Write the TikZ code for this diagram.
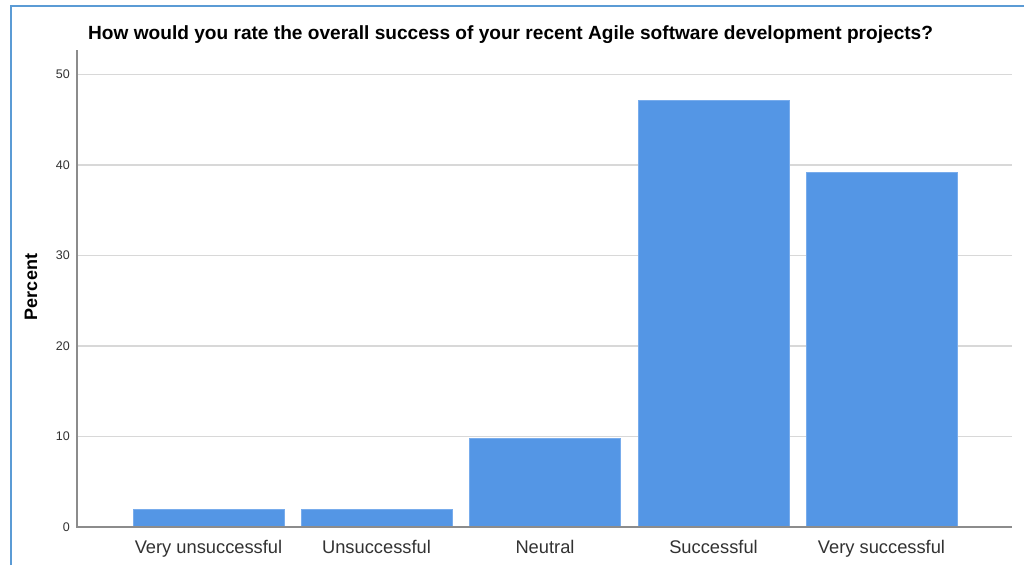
\documentclass[tikz,border=0pt]{standalone}
\usepackage{fontspec}
\setmainfont{Liberation Sans}
\begin{document}
\begin{tikzpicture}[x=1pt,y=-1pt,
  framecol/.style={draw=frameblue,line width=2pt},
  gridln/.style={draw=gridgray,line width=1.5pt},
  axisln/.style={draw=axisgray,line width=1.6pt},
  barbox/.style={fill=barblue,draw=baredge,line width=0.8pt},
  ticklbl/.style={anchor=east,inner sep=0pt,text=labelgray,font=\fontsize{12.5}{14}\selectfont},
  catlbl/.style={anchor=base,inner sep=0pt,text=labelgray,font=\fontsize{18.3}{20}\selectfont},
]
\definecolor{frameblue}{RGB}{91,155,213}
\definecolor{gridgray}{RGB}{216,216,216}
\definecolor{axisgray}{RGB}{140,140,140}
\definecolor{barblue}{RGB}{84,150,229}
\definecolor{baredge}{RGB}{120,172,236}
\definecolor{labelgray}{RGB}{50,50,50}
\useasboundingbox (0,0) rectangle (1024,565);
\fill[white] (0,0) rectangle (1024,565);
% frame edges
\draw[framecol] (11,565) -- (11,6) -- (1024,6);
% gridlines, 10 units = 90.53pt, zero at 527
\foreach \v in {10,20,30,40,50}
  \draw[gridln] (77,{527-9.053*\v}) -- (1012,{527-9.053*\v});
% tick labels
\foreach \v in {0,10,20,30,40,50}
  \node[ticklbl] (tick\v) at (70,{527-9.053*\v}) {\v};
% bars
\foreach \l/\val [count=\i] in {133/2.0,301/2.0,469/9.8,638/47.1,806/39.2}
  \draw[barbox] (\l,527) rectangle ({\l+151},{527-9.053*\val});
% axes
\draw[axisln] (77,50) -- (77,527) -- (1012,527);
% category labels
\node[catlbl] (c1) at (208.5,553) {Very unsuccessful};
\node[catlbl] (c2) at (376.5,553) {Unsuccessful};
\node[catlbl] (c3) at (545,553) {Neutral};
\node[catlbl] (c4) at (713.5,553) {Successful};
\node[catlbl] (c5) at (881.5,553) {Very successful};
% axis title
\node[rotate=90,inner sep=0pt,font=\bfseries\fontsize{18}{20}\selectfont] (ytitle) at (31,287) {Percent};
% chart title
\node[anchor=base west,inner sep=0pt,font=\bfseries\fontsize{19.1}{22}\selectfont] (title) at (88,39) {How would you rate the overall success of your recent Agile software development projects?};
\end{tikzpicture}
\end{document}
